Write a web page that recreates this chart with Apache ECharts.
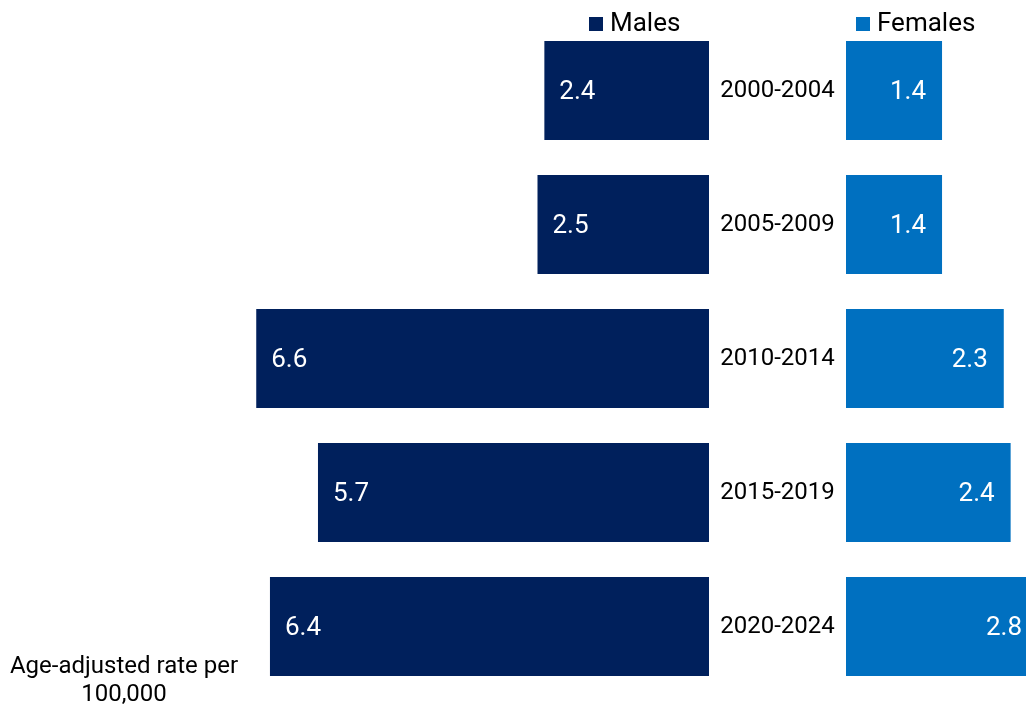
<!DOCTYPE html>
<html>
<head>
<meta charset="utf-8">
<script src="https://cdn.jsdelivr.net/npm/echarts@6/dist/echarts.min.js"></script>
<style>
html,body{margin:0;padding:0;background:#fff;}
#chart{width:1026px;height:706px;}
</style>
</head>
<body>
<div id="chart"></div>
<script>
const categories = ['2000-2004', '2005-2009', '2010-2014', '2015-2019', '2020-2024'];
const males = [2.4, 2.5, 6.6, 5.7, 6.4];
const females = [1.4, 1.4, 2.3, 2.4, 2.8];
const axisNote = 'Age-adjusted rate per\n100,000';

const MALE_COLOR = '#00205C';
const FEMALE_COLOR = '#0070C0';
const S = 68.6;          // px per unit
const AXMAX = 7;
const CENTER_L = 709;    // right edge of male bars
const CENTER_R = 846;    // left edge of female bars
const CANVAS_W = 1026;
const TOP = 23.5, H = 670;
const RIGHT_W = CANVAS_W - CENTER_R;

const chart = echarts.init(document.getElementById('chart'), null, {renderer: 'canvas'});
const font = 'Roboto';

const legendText = {fontFamily: font, fontSize: 26, color: '#000', padding: [0, 0, 0, 2]};

chart.setOption({
  animation: false,
  backgroundColor: '#ffffff',
  textStyle: {fontFamily: font},
  legend: [
    {data: ['Males'], left: 589, top: 11, padding: 0, itemWidth: 14, itemHeight: 14, icon: 'rect',
     textStyle: legendText},
    {data: ['Females'], left: 856, top: 11, padding: 0, itemWidth: 14, itemHeight: 14, icon: 'rect',
     textStyle: legendText}
  ],
  grid: [
    {left: CENTER_L - AXMAX * S, width: AXMAX * S, top: TOP, height: H, containLabel: false},
    {left: CENTER_R, width: RIGHT_W, top: TOP, height: H, containLabel: false}
  ],
  xAxis: [
    {gridIndex: 0, type: 'value', min: 0, max: AXMAX, inverse: true, show: false},
    {gridIndex: 1, type: 'value', min: 0, max: RIGHT_W / S, show: false}
  ],
  yAxis: [
    {gridIndex: 0, type: 'category', data: categories, inverse: true, position: 'right',
     axisLine: {show: false}, axisTick: {show: false}, splitLine: {show: false},
     axisLabel: {show: true, align: 'center', margin: (CENTER_R - CENTER_L) / 2,
       fontFamily: font, fontSize: 24, color: '#000'}},
    {gridIndex: 1, type: 'category', data: categories, inverse: true, show: false}
  ],
  series: [
    {name: 'Males', type: 'bar', xAxisIndex: 0, yAxisIndex: 0, data: males,
     barWidth: 99, itemStyle: {color: MALE_COLOR},
     label: {show: true, position: 'insideLeft', distance: 15, offset: [0, 2], color: '#fff',
       fontFamily: font, fontSize: 26, formatter: p => p.value.toFixed(1)}},
    {name: 'Females', type: 'bar', xAxisIndex: 1, yAxisIndex: 1, data: females,
     barWidth: 99, clip: false, itemStyle: {color: FEMALE_COLOR},
     label: {show: true, position: 'insideRight', distance: 16, offset: [0, 2], color: '#fff',
       fontFamily: font, fontSize: 26, formatter: p => p.value.toFixed(1)}}
  ],
  graphic: [
    {type: 'text', x: 124, y: 653,
     style: {text: axisNote, fontFamily: font, fontSize: 24, lineHeight: 28,
       fill: '#000', align: 'center'}}
  ]
});
</script>
</body>
</html>
